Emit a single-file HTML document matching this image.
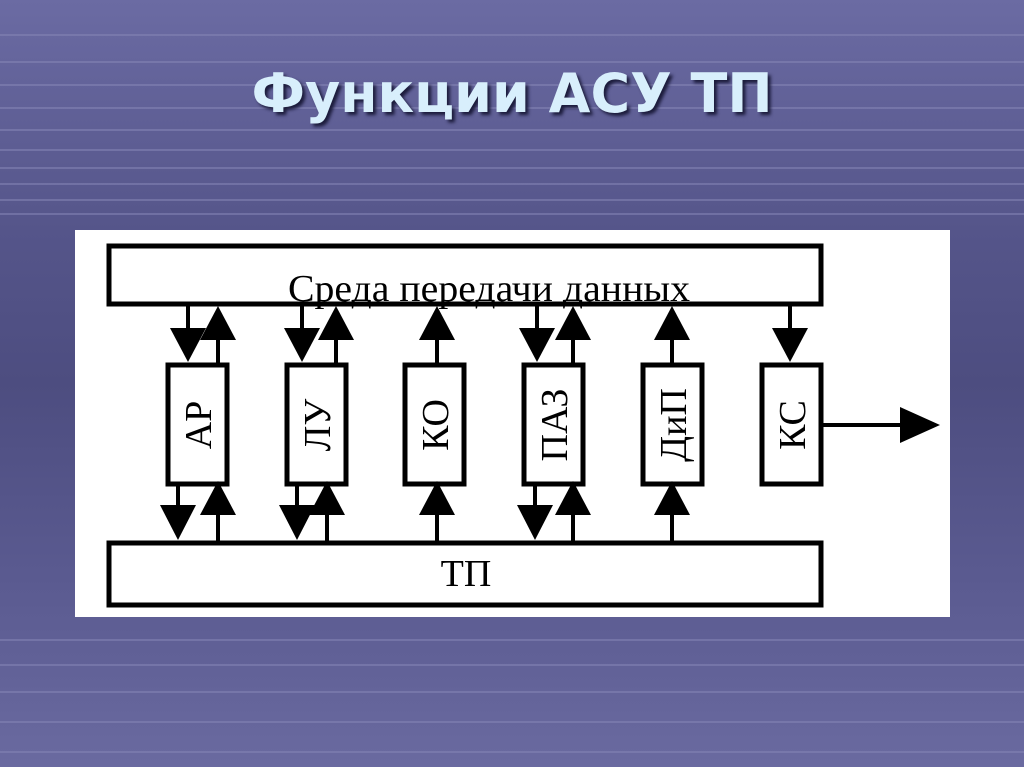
<!DOCTYPE html>
<html><head><meta charset="utf-8"><style>
html,body{margin:0;padding:0;width:1024px;height:767px;overflow:hidden}
body{background:linear-gradient(#6b6ba3 0%,#55558a 30%,#4d4d80 50%,#5a5a90 75%,#6a6aa0 100%);position:relative;font-family:"Liberation Sans",sans-serif}
h1{position:absolute;top:62px;left:0;width:1024px;text-align:center;margin:0;font-size:54px;font-weight:bold;color:#d8effc;text-shadow:3px 3px 3px #1c1c3c;font-family:"DejaVu Sans","Liberation Sans",sans-serif}
svg{position:absolute;left:0;top:0}
</style></head><body>
<svg width="1024" height="767">
<g stroke="#8686b6" stroke-width="2" opacity="0.55">
<line x1="0" y1="35" x2="1024" y2="35"/><line x1="0" y1="62" x2="1024" y2="62"/>
<line x1="0" y1="85" x2="1024" y2="85"/><line x1="0" y1="108" x2="1024" y2="108"/>
<line x1="0" y1="130" x2="1024" y2="130"/><line x1="0" y1="150" x2="1024" y2="150"/>
<line x1="0" y1="168" x2="1024" y2="168"/><line x1="0" y1="184" x2="1024" y2="184"/>
<line x1="0" y1="200" x2="1024" y2="200"/><line x1="0" y1="214" x2="1024" y2="214"/>
<line x1="0" y1="640" x2="1024" y2="640"/><line x1="0" y1="665" x2="1024" y2="665"/>
<line x1="0" y1="692" x2="1024" y2="692"/><line x1="0" y1="722" x2="1024" y2="722"/>
<line x1="0" y1="752" x2="1024" y2="752"/>
</g>
<rect x="75" y="230" width="875" height="387" fill="#fff"/>
<g fill="none" stroke="#000" stroke-width="5">
<rect x="109" y="246" width="712" height="58"/>
<rect x="109" y="543" width="712" height="62"/>
<rect x="168" y="365" width="59" height="119"/>
<rect x="287" y="365" width="59" height="119"/>
<rect x="405" y="365" width="59" height="119"/>
<rect x="524" y="365" width="59" height="119"/>
<rect x="643" y="365" width="59" height="119"/>
<rect x="762" y="365" width="59" height="119"/>
</g>
<g stroke="#000" stroke-width="4">
<line x1="188" y1="305" x2="188" y2="330"/><line x1="218" y1="340" x2="218" y2="363"/>
<line x1="178" y1="486" x2="178" y2="505"/><line x1="218" y1="515" x2="218" y2="541"/>
<line x1="302" y1="305" x2="302" y2="330"/><line x1="336" y1="340" x2="336" y2="363"/>
<line x1="297" y1="486" x2="297" y2="505"/><line x1="327" y1="515" x2="327" y2="541"/>
<line x1="437" y1="340" x2="437" y2="363"/><line x1="437" y1="515" x2="437" y2="541"/>
<line x1="537" y1="305" x2="537" y2="330"/><line x1="573" y1="340" x2="573" y2="363"/>
<line x1="535" y1="486" x2="535" y2="505"/><line x1="573" y1="515" x2="573" y2="541"/>
<line x1="672" y1="340" x2="672" y2="363"/><line x1="672" y1="515" x2="672" y2="541"/>
<line x1="790" y1="305" x2="790" y2="330"/>
<line x1="822" y1="425" x2="905" y2="425"/>
</g>
<g fill="#000">
<polygon points="170,328 206,328 188,362"/><polygon points="200,340 236,340 218,306"/>
<polygon points="160,505 196,505 178,540"/><polygon points="200,515 236,515 218,481"/>
<polygon points="284,328 320,328 302,362"/><polygon points="318,340 354,340 336,306"/>
<polygon points="279,505 315,505 297,540"/><polygon points="309,515 345,515 327,481"/>
<polygon points="419,340 455,340 437,306"/><polygon points="419,515 455,515 437,481"/>
<polygon points="519,328 555,328 537,362"/><polygon points="555,340 591,340 573,306"/>
<polygon points="517,505 553,505 535,540"/><polygon points="555,515 591,515 573,481"/>
<polygon points="654,340 690,340 672,306"/><polygon points="654,515 690,515 672,481"/>
<polygon points="772,328 808,328 790,362"/>
<polygon points="900,407 900,443 940,425"/>
</g>
<g font-family="Liberation Serif,serif" font-size="38" fill="#000" text-anchor="middle">
<text x="489" y="301" textLength="402" lengthAdjust="spacingAndGlyphs">Среда передачи данных</text>
<text x="466" y="586">ТП</text>
<text transform="translate(211,425) rotate(-90)">АР</text>
<text transform="translate(330,425) rotate(-90)">ЛУ</text>
<text transform="translate(448,425) rotate(-90)">КО</text>
<text transform="translate(567,425) rotate(-90)">ПАЗ</text>
<text transform="translate(686,425) rotate(-90)">ДиП</text>
<text transform="translate(805,425) rotate(-90)">КС</text>
</g>
</svg>
<h1>Функции АСУ ТП</h1>
</body></html>
